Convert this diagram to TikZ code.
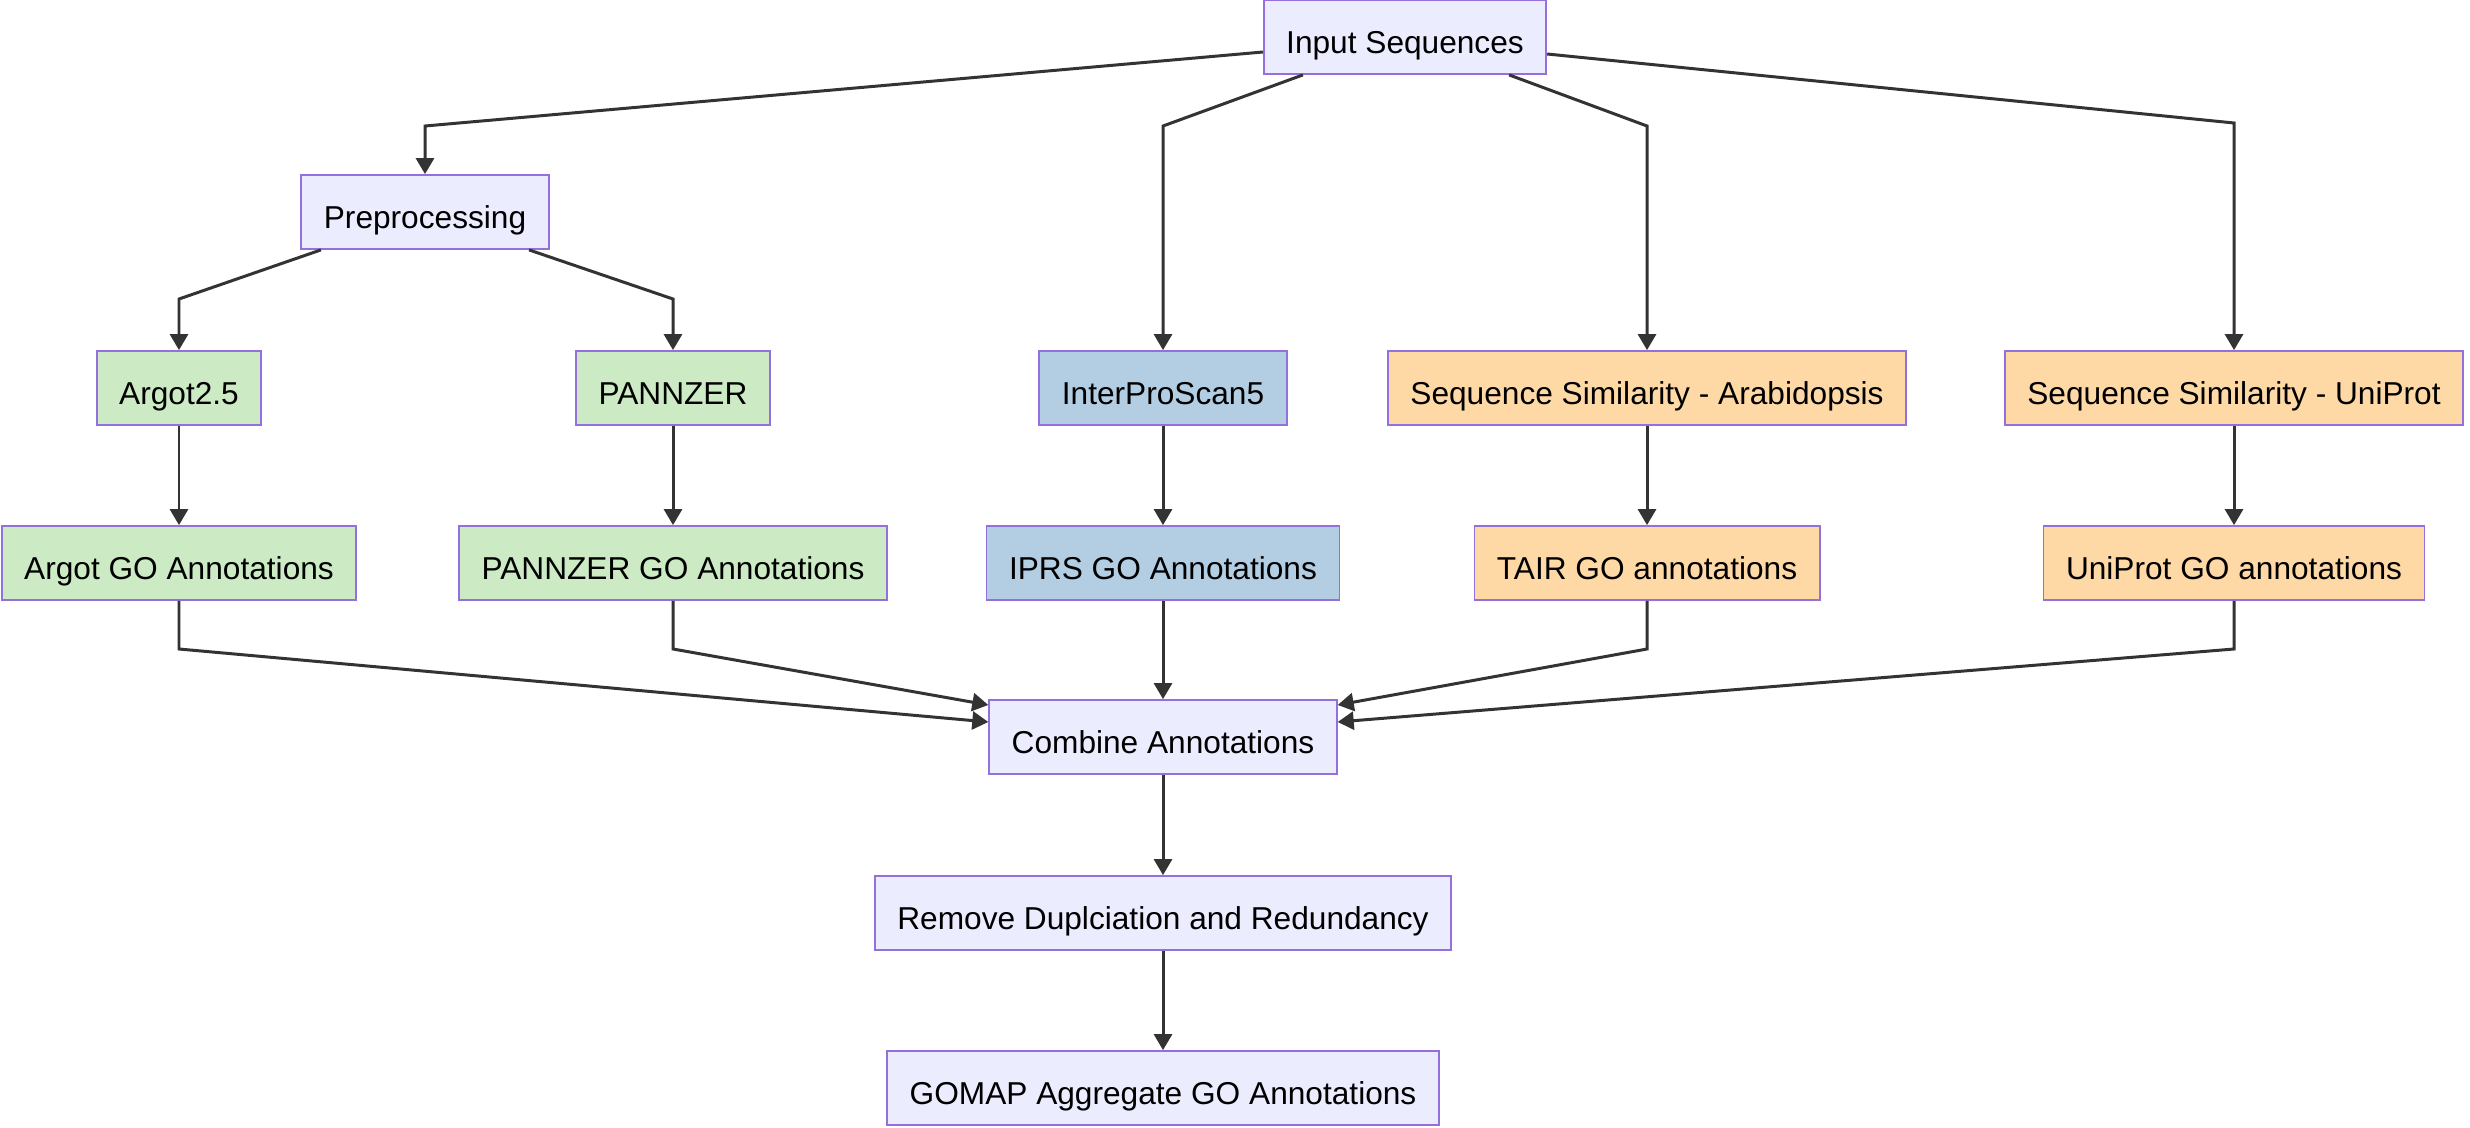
\documentclass[tikz,border=0pt]{standalone}
\usepackage{fontspec}
\setmainfont{Liberation Sans}
\usetikzlibrary{arrows.meta,positioning}
\definecolor{boxline}{HTML}{9370DB}
\definecolor{lav}{HTML}{ECECFF}
\definecolor{grn}{HTML}{CCEBC5}
\definecolor{blu}{HTML}{B3CDE3}
\definecolor{org}{HTML}{FED9A6}
\definecolor{edgegray}{HTML}{333333}
\tikzset{box/.style={draw=boxline,line width=0.5pt,fill=lav,minimum height=0.74cm,inner xsep=0.225cm,inner ysep=0pt,text height=0.33cm,text depth=0pt,font=\fontsize{9}{11}\selectfont},
    gbox/.style={box,fill=grn},
    bbox/.style={box,fill=blu},
    obox/.style={box,fill=org},
    link/.style={draw=edgegray,line width=0.85pt,-{Triangle[length=0.16cm,width=0.18cm]}}}

\begin{document}
\begin{tikzpicture}[x=0.01cm,y=-0.01cm]
                \useasboundingbox (0,0) rectangle (2470,1127);
                \def\ra{388}
                \def\rb{563}
                % boxes
                \node[box] (in) at (1405,37) {Input Sequences};
                \node[box] (pre) at (425,212) {Preprocessing};
                \node[gbox] (argot) at (179,\ra) {Argot2.5};
                \node[gbox] (pz) at (673,\ra) {PANNZER};
                \node[bbox] (ips) at (1163,\ra) {InterProScan5};
                \node[obox] (ssa) at (1647,\ra) {Sequence Similarity - Arabidopsis};
                \node[obox] (ssu) at (2234,\ra) {Sequence Similarity - UniProt};
                \node[gbox] (argotgo) at (179,\rb) {Argot GO Annotations};
                \node[gbox] (pzgo) at (673,\rb) {PANNZER GO Annotations};
                \node[bbox] (ipsgo) at (1163,\rb) {IPRS GO Annotations};
                \node[obox] (tair) at (1647,\rb) {TAIR GO annotations};
                \node[obox] (unigo) at (2234,\rb) {UniProt GO annotations};
                \node[box] (comb) at (1163,737) {Combine Annotations};
                \node[box] (rem) at (1163,913) {Remove Duplciation and Redundancy};
                \node[box] (gomap) at (1163,1088) {GOMAP Aggregate GO Annotations};
                % from the input
                \draw[link] ([yshift=-0.15cm]in.west) -- (pre.north |- 0,126) -- (pre.north);
                \draw[link] ([xshift=-1.02cm]in.south) -- (ips.north |- 0,126) -- (ips.north);
                \draw[link] ([xshift=1.04cm]in.south) -- (ssa.north |- 0,126) -- (ssa.north);
                \draw[link] ([yshift=-0.17cm]in.east) -- (ssu.north |- 0,123) -- (ssu.north);
                \draw[link] ([xshift=-1.04cm]pre.south) -- (argot.north |- 0,299) -- (argot.north);
                \draw[link] ([xshift=1.04cm]pre.south) -- (pz.north |- 0,299) -- (pz.north);
                % straight down
                \foreach \a/\b in {argot/argotgo,pz/pzgo,ips/ipsgo,ssa/tair,ssu/unigo,ipsgo/comb,comb/rem,rem/gomap}
                    \draw[link] (\a) -- (\b);
                % into combine
                \draw[link] (argotgo.south) -- (argotgo.south |- 0,649) -- ([yshift=0.15cm]comb.west);
                \draw[link] (pzgo.south) -- (pzgo.south |- 0,649) -- ([yshift=0.32cm]comb.west);
                \draw[link] (tair.south) -- (tair.south |- 0,649) -- ([yshift=0.32cm]comb.east);
                \draw[link] (unigo.south) -- (unigo.south |- 0,649) -- ([yshift=0.15cm]comb.east);
            \end{tikzpicture}
\end{document}
